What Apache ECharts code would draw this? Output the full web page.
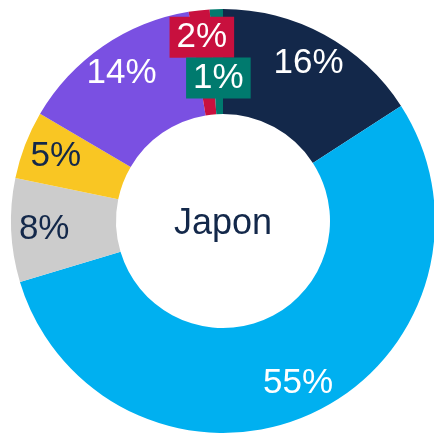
<!DOCTYPE html>
<html>
<head>
<meta charset="utf-8">
<script src="https://cdn.jsdelivr.net/npm/echarts@6/dist/echarts.min.js"></script>
<style>
  html, body { margin: 0; padding: 0; background: #ffffff; }
  #donutChart { width: 434px; height: 435px; }
</style>
</head>
<body>
<div id="donutChart"></div>
<script>
// parts, clockwise from 12 o'clock
var categories = ['A', 'B', 'C', 'D', 'E', 'F', 'G'];
var shares = [15.9, 54.6, 7.9, 5.2, 14.0, 1.6, 1.0];
var colors = ['#13284A', '#00B0F0', '#CCCCCC', '#F9C623', '#7A50E2', '#C8103E', '#007A6E'];
var labelColors = ['#ffffff', '#ffffff', '#13284A', '#13284A', '#ffffff', '#ffffff', '#ffffff'];
var centerText = 'Japon';

var font = '"Liberation Sans", Arial, sans-serif';
var center = [223, 221];

// small slices get a boxed label pushed off the ring
var labelBoxes = {
    5: { offset: [-1, -6] },
    6: { offset: [1, 36] }
};

var ringData = categories.map(function (name, i) {
    return { name: name, value: shares[i], itemStyle: { color: colors[i] } };
});

var labelData = categories.map(function (name, i) {
    var item = {
        name: name,
        value: shares[i],
        itemStyle: { color: 'rgba(0,0,0,0)' },
        label: { color: labelColors[i] }
    };
    if (labelBoxes[i]) {
        item.label.backgroundColor = colors[i];
        item.label.padding = [3, 7, 2, 7];
        item.label.offset = labelBoxes[i].offset;
    }
    return item;
});

var chart = echarts.init(document.getElementById('donutChart'));
chart.setOption({
    animation: false,
    series: [
        {
            type: 'pie',
            center: center,
            radius: [107, 212],
            startAngle: 90,
            clockwise: true,
            silent: true,
            avoidLabelOverlap: false,
            label: { show: false },
            labelLine: { show: false },
            data: ringData
        },
        {
            // transparent ring, only used to put labels at r ~ 176
            type: 'pie',
            center: center,
            radius: [140, 212],
            startAngle: 90,
            clockwise: true,
            silent: true,
            avoidLabelOverlap: false,
            z: 3,
            label: {
                show: true,
                position: 'inside',
                fontFamily: font,
                fontSize: 35,
                lineHeight: 36,
                formatter: function (p) { return Math.round(p.value) + '%'; }
            },
            labelLine: { show: false },
            data: labelData
        }
    ],
    graphic: [
        {
            type: 'text',
            x: 223,
            y: 224,
            style: {
                text: centerText,
                fontFamily: font,
                fontSize: 36,
                fill: '#13284A',
                textAlign: 'center',
                textVerticalAlign: 'middle'
            }
        }
    ]
});
</script>
</body>
</html>
